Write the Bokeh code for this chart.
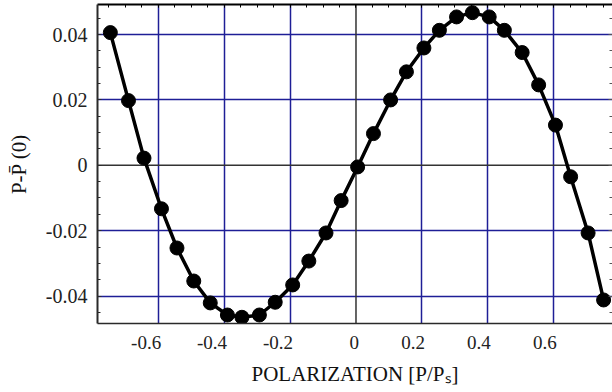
import numpy as np
from bokeh.plotting import figure
from bokeh.models import (FixedTicker, LinearAxis, Span, Range1d, Grid,
                          CustomJSTickFormatter)
from bokeh.embed import file_html
from bokeh.resources import INLINE

# ---- data ----
polarization = [-0.745, -0.690, -0.643, -0.590, -0.543, -0.492, -0.442, -0.390,
                -0.346, -0.293, -0.245, -0.192, -0.143, -0.091, -0.045, 0.005,
                0.053, 0.105, 0.153, 0.206, 0.253, 0.305, 0.353, 0.404,
                0.450, 0.504, 0.554, 0.605, 0.651, 0.704, 0.751]
delta_p = [0.0406, 0.0198, 0.0022, -0.0133, -0.0253, -0.0354, -0.0421, -0.0458,
           -0.0465, -0.0458, -0.0419, -0.0366, -0.0293, -0.0207, -0.0108, -0.0005,
           0.0097, 0.0200, 0.0286, 0.0359, 0.0413, 0.0454, 0.0467, 0.0454,
           0.0413, 0.0345, 0.0246, 0.0123, -0.0035, -0.0207, -0.0412]

x_tick_values = [-0.6, -0.4, -0.2, 0.0, 0.2, 0.4, 0.6]
x_tick_labels = ["-0.6", "-0.4", "-0.2", "0", "0.2", "0.4", "0.6"]
y_tick_values = [-0.04, -0.02, 0.0, 0.02, 0.04]
y_tick_labels = ["-0.04", "-0.02", "0", "0.02", "0.04"]

x_label = "POLARIZATION [P/P\u209b]"
y_label = "P-P\u0304 (0)"

FONT = "Liberation Serif"
GRID = "#1e1e96"
AXIS = "#2a2a2a"
TICK_FS = 19

W, H = 612, 392
BL, BB, BT = 97, 69, 4
X0, X1 = -0.784, 0.778
Y0, Y1 = -0.0484, 0.0492

x_minor = [round(v, 3) for v in np.arange(-0.75, 0.751, 0.05)]
y_minor = [round(v, 3) for v in np.arange(-0.045, 0.0451, 0.005)]

p = figure(width=W, height=H, output_backend="svg", toolbar_location=None,
           x_range=Range1d(X0, X1), y_range=Range1d(Y0, Y1),
           x_axis_type=None, y_axis_type=None,
           min_border_left=BL, min_border_right=0, min_border_top=BT,
           min_border_bottom=BB)
p.outline_line_color = None
p.background_fill_color = "white"

empty = CustomJSTickFormatter(code="return '';")

# bottom-axis labels in the reference are right-aligned just past each grid line:
# emulate by shifting each centred label by (3px - half its estimated width)
px_per_unit = (W - BL) / (X1 - X0)
char_em = {"-": 0.333, ".": 0.25}
def est_width(s):
    return sum(char_em.get(c, 0.5) for c in s) * TICK_FS
x_label_pos = [v + (3 - est_width(s) / 2) / px_per_unit
               for v, s in zip(x_tick_values, x_tick_labels)]

# bottom axis
xb = LinearAxis(ticker=FixedTicker(ticks=x_label_pos, minor_ticks=[]),
                formatter=CustomJSTickFormatter(args=dict(labels=x_tick_labels),
                                                code="return labels[index];"))
xb.major_tick_in = 0
xb.major_tick_out = 0
xb.minor_tick_in = 0
xb.minor_tick_out = 0
xb.major_label_standoff = 12
xb.major_label_text_font = FONT
xb.major_label_text_font_size = f"{TICK_FS}px"
xb.major_label_text_color = "#222222"
xb.axis_label = x_label
xb.axis_label_text_font = FONT
xb.axis_label_text_font_style = "normal"
xb.axis_label_text_font_size = "21px"
xb.axis_label_text_color = "#111111"
xb.axis_label_standoff = 10
xb.axis_label_text_line_height = 0.8
xb.axis_line_color = AXIS
xb.axis_line_width = 1.5
p.add_layout(xb, "below")

# left axis
yl = LinearAxis(ticker=FixedTicker(ticks=y_tick_values, minor_ticks=y_minor),
                formatter=CustomJSTickFormatter(args=dict(labels=y_tick_labels),
                                                code="return labels[index];"))
yl.major_tick_in = 4
yl.major_tick_out = 0
yl.minor_tick_in = 3
yl.minor_tick_out = 0
yl.major_tick_line_color = AXIS
yl.minor_tick_line_color = AXIS
yl.major_label_standoff = 10
yl.major_label_text_font = FONT
yl.major_label_text_font_size = f"{TICK_FS + 1}px"
yl.major_label_text_color = "#222222"
yl.axis_label = y_label
yl.axis_label_text_font = FONT
yl.axis_label_text_font_style = "normal"
yl.axis_label_text_font_size = "21px"
yl.axis_label_text_color = "#111111"
yl.axis_label_standoff = 12
yl.axis_line_color = AXIS
yl.axis_line_width = 2
p.add_layout(yl, "left")

# top axis (ticks only)
xt = LinearAxis(ticker=FixedTicker(ticks=x_tick_values, minor_ticks=x_minor),
                formatter=empty)
xt.major_tick_in = 3
xt.major_tick_out = 0
xt.minor_tick_in = 3
xt.minor_tick_out = 0
xt.major_label_standoff = 0
xt.axis_line_color = "black"
xt.axis_line_width = 2
p.add_layout(xt, "above")

# right axis (ticks only)
yr = LinearAxis(ticker=FixedTicker(ticks=y_tick_values, minor_ticks=y_minor),
                formatter=empty)
yr.major_tick_in = 4
yr.major_tick_out = 0
yr.minor_tick_in = 3
yr.minor_tick_out = 0
yr.major_tick_line_color = "#555555"
yr.minor_tick_line_color = "#555555"
yr.major_label_standoff = 0
yr.axis_line_color = None
p.add_layout(yr, "right")

# grids
p.add_layout(Grid(dimension=0,
                  ticker=FixedTicker(ticks=[v for v in x_tick_values if v != 0]),
                  grid_line_color=GRID, grid_line_width=1.5))
p.add_layout(Grid(dimension=1,
                  ticker=FixedTicker(ticks=[v for v in y_tick_values if v != 0]),
                  grid_line_color=GRID, grid_line_width=1.5))

p.add_layout(Span(location=0, dimension="height", line_color="#333333",
                  line_width=1.5, level="underlay"))
p.add_layout(Span(location=0, dimension="width", line_color="#333333",
                  line_width=1.5, level="underlay"))

p.line(polarization, delta_p, line_color="black", line_width=3.5)
p.scatter(polarization, delta_p, size=14, fill_color="black", line_color="black")

open("out.html", "w").write(file_html(p, INLINE))
